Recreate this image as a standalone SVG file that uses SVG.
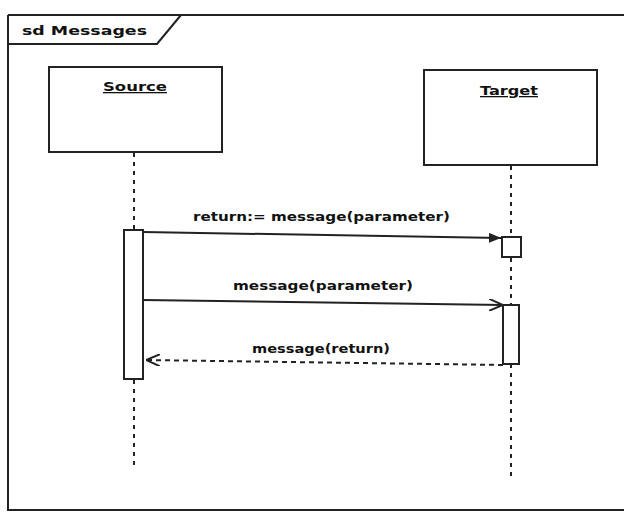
<svg xmlns="http://www.w3.org/2000/svg" width="624" height="513" viewBox="0 0 624 513">
<defs>
<style>
.ln{fill:none;stroke:#222;stroke-width:2}
.box{fill:#fff;stroke:#222;stroke-width:2}
.life{fill:none;stroke:#222;stroke-width:2;stroke-dasharray:4 5}
.dash{fill:none;stroke:#222;stroke-width:2;stroke-dasharray:5 4}
.t{font-family:"DejaVu Sans","Liberation Sans",sans-serif;font-weight:bold;font-size:13px;fill:#111}
.u{text-decoration:underline}
</style>
<marker id="filled" viewBox="0 0 12 10" refX="12" refY="5" markerWidth="12" markerHeight="10" markerUnits="userSpaceOnUse" orient="auto">
<path d="M0,0 L12,5 L0,10 Z" fill="#222"/>
</marker>
<marker id="open" viewBox="0 0 14 12" refX="14" refY="6" markerWidth="14" markerHeight="12" markerUnits="userSpaceOnUse" orient="auto">
<path d="M0,0 L14,6 L0,12" fill="none" stroke="#222" stroke-width="2"/>
</marker>
</defs>
<rect width="624" height="513" fill="#fff"/>
<g id="frame">
<path class="ln" d="M8,15 L630,15 M8,15 L8,510 L630,510"/>
<path class="ln" d="M8,44 L157,44 L181,15"/>
<text class="t" x="22" y="35" textLength="125" lengthAdjust="spacingAndGlyphs">sd Messages</text>
</g>
<g id="connectors">
<path class="life" d="M134,153 L134,230 M134,380 L134,470"/>
<path class="life" d="M511,166 L511,237 M511,258 L511,305 M511,364 L511,476"/>
<path class="ln" d="M143,232 L501,238" marker-end="url(#filled)"/>
<path class="ln" d="M143,300 L503,305" marker-end="url(#open)"/>
<path class="dash" d="M503,365 L146,360" marker-end="url(#open)"/>
<text class="t" x="193" y="221" textLength="257" lengthAdjust="spacingAndGlyphs">return:= message(parameter)</text>
<text class="t" x="233" y="290" textLength="180" lengthAdjust="spacingAndGlyphs">message(parameter)</text>
<text class="t" x="252" y="353" textLength="138" lengthAdjust="spacingAndGlyphs">message(return)</text>
</g>
<g id="source">
<rect class="box" x="49" y="67" width="173" height="85"/>
<text class="t u" x="103" y="91" textLength="64" lengthAdjust="spacingAndGlyphs">Source</text>
<rect class="box" x="124" y="230" width="19" height="149"/>
</g>
<g id="target">
<rect class="box" x="424" y="70" width="173" height="95"/>
<text class="t u" x="480" y="95" textLength="58" lengthAdjust="spacingAndGlyphs">Target</text>
<rect class="box" x="502" y="237" width="19" height="20"/>
<rect class="box" x="503" y="305" width="16" height="59"/>
</g>
</svg>
